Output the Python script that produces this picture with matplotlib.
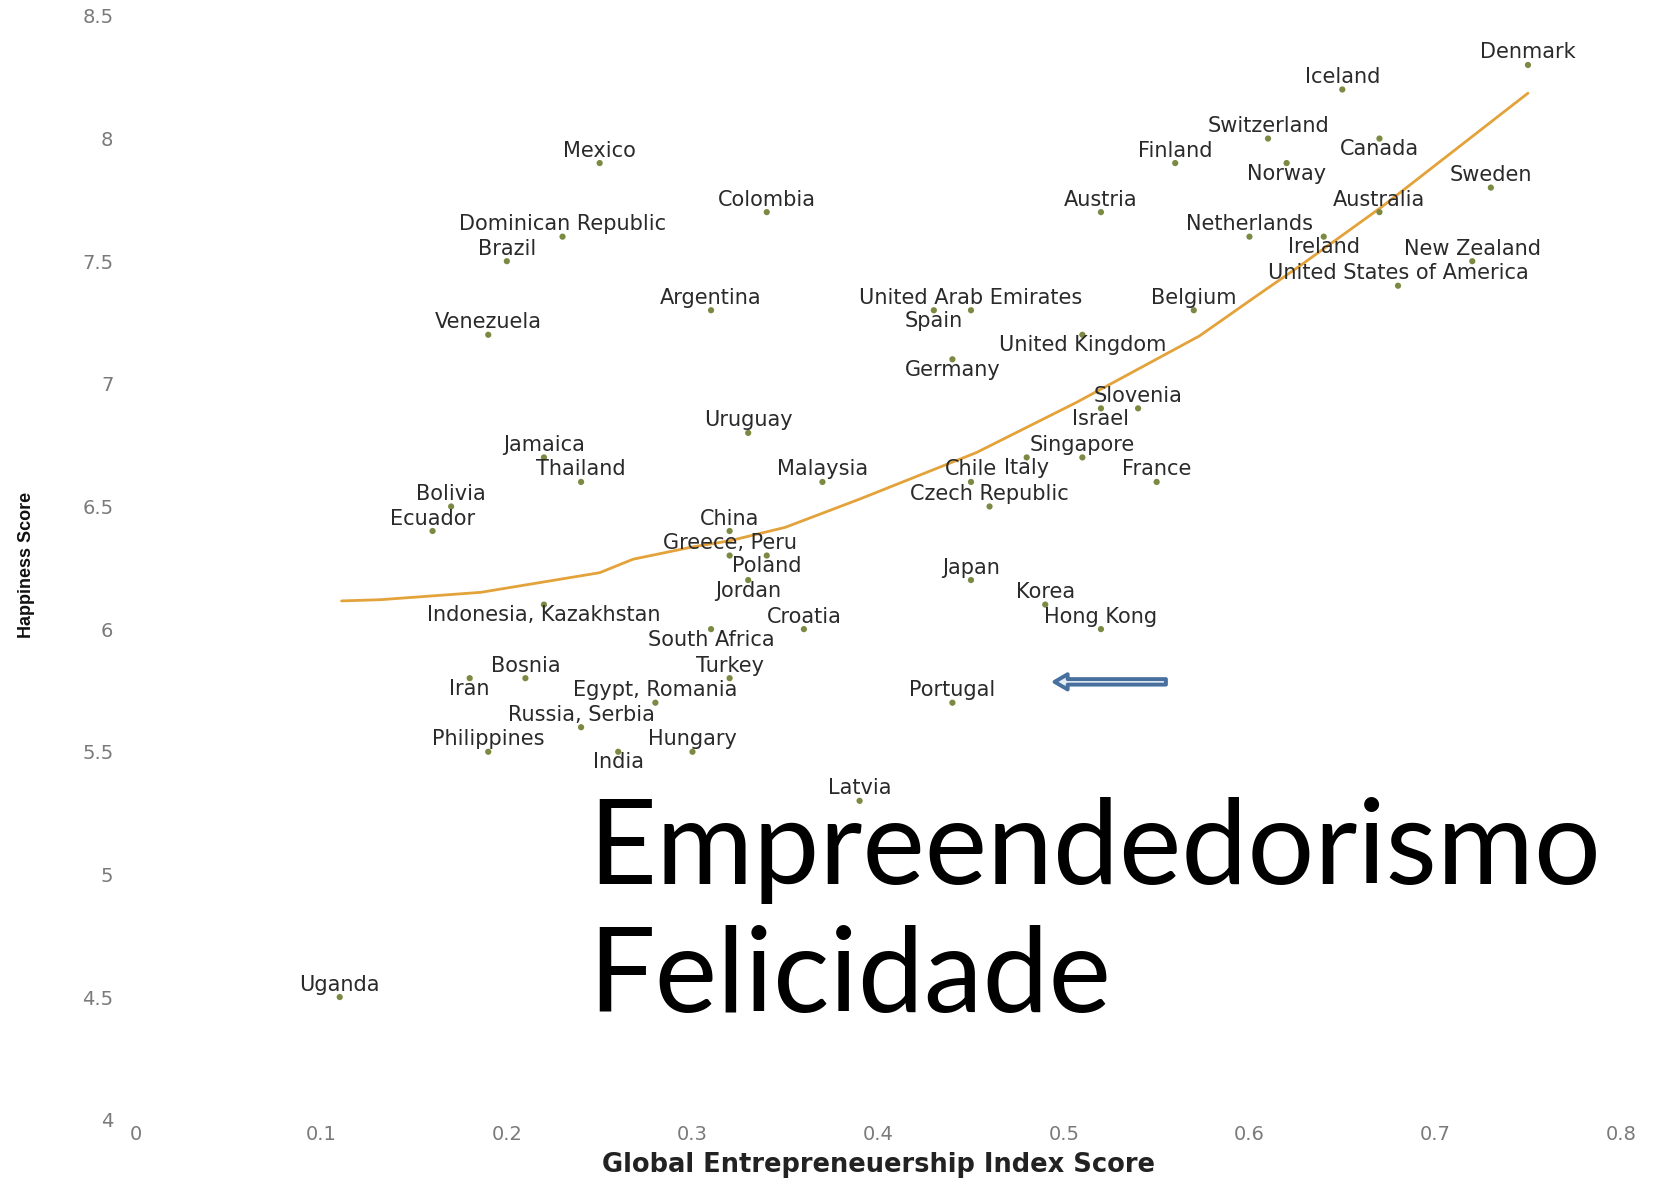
import matplotlib.pyplot as plt

# Global Entrepreneurship Index vs Happiness
countries = [
    "Denmark", "Iceland", "Switzerland", "Canada", "Finland", "Norway", "Sweden",
    "Austria", "Australia", "Netherlands", "Ireland", "New Zealand",
    "United States of America", "United Arab Emirates", "Spain", "Belgium",
    "United Kingdom", "Germany", "Slovenia", "Israel", "Singapore", "Italy",
    "Chile", "France", "Malaysia", "Czech Republic", "Uruguay", "Jamaica",
    "Thailand", "Bolivia", "Ecuador", "China", "Greece, Peru", "Poland", "Jordan",
    "Japan", "Korea", "Indonesia, Kazakhstan", "Hong Kong", "Croatia",
    "South Africa", "Turkey", "Iran", "Bosnia", "Egypt, Romania", "Portugal",
    "Russia, Serbia", "Philippines", "India", "Hungary", "Latvia", "Uganda",
    "Mexico", "Colombia", "Dominican Republic", "Brazil", "Argentina", "Venezuela",
]
gei_score = [
    0.75, 0.65, 0.61, 0.67, 0.56, 0.62, 0.73,
    0.52, 0.67, 0.60, 0.64, 0.72,
    0.68, 0.45, 0.43, 0.57,
    0.51, 0.44, 0.54, 0.52, 0.51, 0.48,
    0.45, 0.55, 0.37, 0.46, 0.33, 0.22,
    0.24, 0.17, 0.16, 0.32, 0.32, 0.34, 0.33,
    0.45, 0.49, 0.22, 0.52, 0.36,
    0.31, 0.32, 0.18, 0.21, 0.28, 0.44,
    0.24, 0.19, 0.26, 0.30, 0.39, 0.11,
    0.25, 0.34, 0.23, 0.20, 0.31, 0.19,
]
happiness = [
    8.3, 8.2, 8.0, 8.0, 7.9, 7.9, 7.8,
    7.7, 7.7, 7.6, 7.6, 7.5,
    7.4, 7.3, 7.3, 7.3,
    7.2, 7.1, 6.9, 6.9, 6.7, 6.7,
    6.6, 6.6, 6.6, 6.5, 6.8, 6.7,
    6.6, 6.5, 6.4, 6.4, 6.3, 6.3, 6.2,
    6.2, 6.1, 6.1, 6.0, 6.0,
    6.0, 5.8, 5.8, 5.8, 5.7, 5.7,
    5.6, 5.5, 5.5, 5.5, 5.3, 4.5,
    7.9, 7.7, 7.6, 7.5, 7.3, 7.2,
]

# trend line as drawn on the chart
trend_x = [0.111, 0.132, 0.186, 0.250, 0.268, 0.300, 0.320, 0.350, 0.390,
           0.453, 0.507, 0.573, 0.606, 0.627, 0.671, 0.750]
trend_y = [6.115, 6.120, 6.150, 6.230, 6.285, 6.335, 6.360, 6.415, 6.530,
           6.720, 6.925, 7.195, 7.370, 7.480, 7.720, 8.185]

x_ticks = [0, 0.1, 0.2, 0.3, 0.4, 0.5, 0.6, 0.7, 0.8]
x_tick_labels = ["0", "0.1", "0.2", "0.3", "0.4", "0.5", "0.6", "0.7", "0.8"]
y_ticks = [4, 4.5, 5, 5.5, 6, 6.5, 7, 7.5, 8, 8.5]
y_tick_labels = ["4", "4.5", "5", "5.5", "6", "6.5", "7", "7.5", "8", "8.5"]

# labels that sit under their dot instead of above it
labels_below = {
    "Canada", "Norway", "Ireland", "Spain", "United Kingdom", "Germany",
    "Israel", "Italy", "Poland", "Jordan", "Indonesia, Kazakhstan",
    "South Africa", "Iran", "India",
}

W, H = 1661, 1178
fig = plt.figure(figsize=(W / 100, H / 100), dpi=100)
ax = fig.add_axes([135.5 / W, 58.3 / H, 1485.3 / W, 1103.8 / H])

ax.plot(trend_x, trend_y, color="#e3a23a", lw=2.0, solid_capstyle="round", zorder=2)
ax.scatter(gei_score, happiness, s=20, color="#7b8a43", edgecolors="none", zorder=3)

for name, x, y in zip(countries, gei_score, happiness):
    off = -16.5 if name in labels_below else 6.5
    ax.annotate(name, (x, y), xytext=(0, off), textcoords="offset pixels",
                ha="center", va="baseline", fontsize=15, color="#2a2a2a", zorder=4)

# arrow pointing at Portugal
i = countries.index("Portugal")
px, py = gei_score[i], happiness[i]
ax.annotate("", xy=(px + 0.055, py + 0.085), xytext=(px + 0.115, py + 0.085),
            arrowprops=dict(arrowstyle="simple,head_length=0.86,head_width=1.0,tail_width=0.36",
                            mutation_scale=11, fc="#e4ecf5", ec="#47709f", lw=2.8,
                            shrinkA=0, shrinkB=0))

ax.set_xlim(0, 0.8)
ax.set_ylim(4, 8.5)
ax.set_xticks(x_ticks)
ax.set_xticklabels(x_tick_labels)
ax.set_yticks(y_ticks)
ax.set_yticklabels(y_tick_labels)
ax.tick_params(axis="x", length=0, pad=4, labelsize=14, labelcolor="#7a7a7a")
ax.tick_params(axis="y", length=0, pad=16, labelsize=14, labelcolor="#7a7a7a")
for s in ax.spines.values():
    s.set_visible(False)

fig.text(879 / W, 13 / H, "Global Entrepreneuership Index Score", ha="center",
         va="center", fontsize=18.5, fontweight="bold", color="#222222")
fig.text(26.5 / W, 613 / H, "Happiness Score", rotation=90, ha="center",
         va="center", fontsize=13, fontweight="bold", color="#111111",
         family=["Liberation Sans", "DejaVu Sans"])

fig.text(588 / W, 1 - 884.5 / H, "Empreendedorismo", ha="left", va="baseline",
         fontsize=85, family=["Lato", "DejaVu Sans"], color="black")
fig.text(588 / W, 1 - 1011.6 / H, "Felicidade", ha="left", va="baseline",
         fontsize=85, family=["Lato", "DejaVu Sans"], color="black")

fig.savefig("out.png", dpi=100)
